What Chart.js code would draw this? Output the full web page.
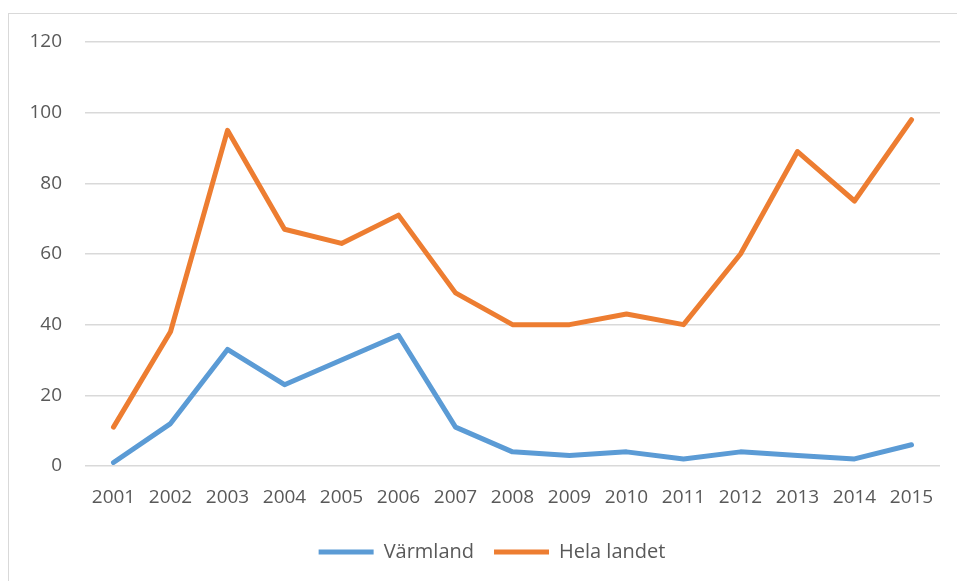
<!DOCTYPE html>
<html>
<head>
<meta charset="utf-8">
<script src="https://cdn.jsdelivr.net/npm/chart.js@4/dist/chart.umd.min.js"></script>
<style>
  html, body { margin: 0; padding: 0; background: #fff; overflow: hidden; }
  #frame { position: absolute; left: 8px; top: 13px; width: 960px; height: 600px; border: 1px solid #d9d9d9; box-sizing: border-box; }
  #wrap { position: absolute; left: 0; top: 0; width: 957px; height: 581px; }
</style>
</head>
<body>
<div id="frame"></div>
<div id="wrap"><canvas id="c" width="957" height="581"></canvas></div>
<script>
const years = ['2001','2002','2003','2004','2005','2006','2007','2008','2009','2010','2011','2012','2013','2014','2015'];
const varmland = [1, 12, 33, 23, 30, 37, 11, 4, 3, 4, 2, 4, 3, 2, 6];
const helaLandet = [11, 38, 95, 67, 63, 71, 49, 40, 40, 43, 40, 60, 89, 75, 98];
const seriesNames = ['Värmland', 'Hela landet'];
const yTicks = [0, 20, 40, 60, 80, 100, 120];

const FONT = { family: '"Open Sans", "Liberation Sans", sans-serif', size: 19 };
const LEGEND_FONT = { family: '"Open Sans", "Liberation Sans", sans-serif', size: 20 };
const TEXT = '#595959';

const shiftLegend = {
  id: 'shiftLegend',
  afterLayout(chart) {
    const lg = chart.legend;
    if (lg) { lg.left += 22; lg.right += 22; }
  }
};

new Chart(document.getElementById('c'), {
  type: 'line',
  data: {
    labels: years,
    datasets: [
      { label: seriesNames[0], data: varmland, borderColor: '#5B9BD5', backgroundColor: '#5B9BD5',
        borderWidth: 5, pointRadius: 0, tension: 0, borderCapStyle: 'round', borderJoinStyle: 'round' },
      { label: seriesNames[1], data: helaLandet, borderColor: '#ED7D31', backgroundColor: '#ED7D31',
        borderWidth: 5, pointRadius: 0, tension: 0, borderCapStyle: 'round', borderJoinStyle: 'round' }
    ]
  },
  plugins: [shiftLegend],
  options: {
    responsive: false,
    animation: false,
    devicePixelRatio: 1,
    layout: { padding: { left: 0, right: 17, top: 42, bottom: 9 } },
    plugins: {
      tooltip: { enabled: false },
      legend: {
        position: 'bottom',
        labels: {
          font: LEGEND_FONT, color: TEXT,
          boxWidth: 55, boxHeight: 5, padding: 20,
          generateLabels(chart) {
            return chart.data.datasets.map((ds, i) => ({
              text: ds.label, fillStyle: ds.borderColor, strokeStyle: ds.borderColor,
              lineWidth: 0, fontColor: TEXT, datasetIndex: i, hidden: false
            }));
          }
        }
      }
    },
    scales: {
      x: {
        offset: true,
        grid: { display: false, drawTicks: false },
        border: { display: false },
        ticks: { font: FONT, color: TEXT, padding: 20, maxRotation: 0, autoSkip: false },
        afterFit(s) { s.height = 56; }
      },
      y: {
        min: 0, max: 120,
        afterBuildTicks(s) { s.ticks = yTicks.map(v => ({ value: v })); },
        grid: { color: '#d9d9d9', lineWidth: 1.5, drawTicks: false },
        border: { display: false },
        ticks: { font: FONT, color: TEXT, padding: 23 },
        afterFit(s) { s.width = 85; }
      }
    }
  }
});
</script>
</body>
</html>
